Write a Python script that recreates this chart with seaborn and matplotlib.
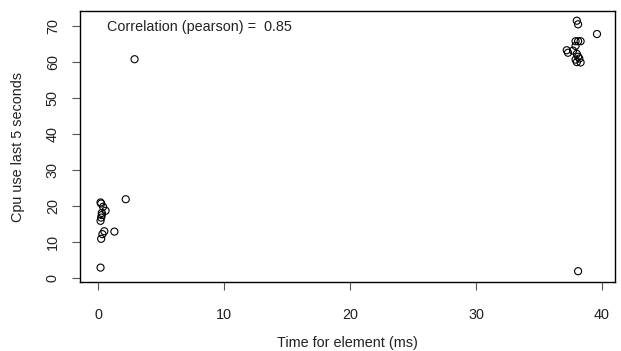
import matplotlib
matplotlib.use("Agg")
import matplotlib.pyplot as plt
import seaborn as sns
import pandas as pd

# Element processing time (ms) against CPU use over the last 5 seconds
time_ms = [0.2, 0.25, 0.4, 0.6, 0.3, 0.3, 0.25, 0.2, 0.5, 1.3, 0.35, 0.25, 0.2, 2.2, 2.9,
           38.0, 38.1, 39.6, 37.9, 38.1, 38.3, 37.9, 37.2, 37.3, 37.7, 38.0, 38.2,
           37.9, 38.0, 38.3, 38.1, 38.1]
cpu_pct = [21.0, 20.7, 19.8, 18.7, 18.1, 17.5, 16.8, 15.9, 13.0, 12.9, 12.2, 10.9, 2.9, 21.9, 60.8,
           71.5, 70.5, 67.8, 65.8, 65.8, 65.8, 64.5, 63.3, 62.6, 63.2, 62.3, 61.0,
           60.7, 60.0, 59.9, 61.5, 1.9]
x_ticks = [0, 10, 20, 30, 40]
y_ticks = [0, 10, 20, 30, 40, 50, 60, 70]
corr_label = "Correlation (pearson) =  0.85"

df = pd.DataFrame({"time": time_ms, "cpu": cpu_pct})

sns.set_style("white")
plt.rcParams["font.family"] = ["Liberation Sans", "DejaVu Sans"]

fs = 10.4
ink = "#222222"

fig = plt.figure(figsize=(6.21, 3.51), dpi=100)
ax = fig.add_axes([80 / 621, (351 - 282) / 351, (615 - 80) / 621, (282 - 11) / 351])

sns.scatterplot(data=df, x="time", y="cpu", ax=ax, marker="o", s=26,
                facecolor="none", edgecolor="black", linewidth=0.8)

ax.set_xlim(-1.43, 41.03)
ax.set_ylim(-1.1, 74.2)
ax.set_xticks(x_ticks)
ax.set_yticks(y_ticks)
ax.set_yticklabels([str(v) for v in y_ticks], rotation=90, va="center")

for sp in ax.spines.values():
    sp.set_visible(True)
    sp.set_color("black")
    sp.set_linewidth(1.0)

ax.tick_params(axis="both", which="major", direction="out", length=5.5, width=0.8,
               color="#555555", labelsize=fs, labelcolor=ink,
               bottom=True, left=True)
ax.tick_params(axis="x", pad=13)
ax.tick_params(axis="y", pad=9)

ax.set_xlabel("Time for element (ms)", fontsize=fs, color=ink, labelpad=10)
ax.set_ylabel("Cpu use last 5 seconds", fontsize=fs, color=ink)
ax.yaxis.set_label_coords(-55 / 535, 0.5)

# annotation placed in figure pixel coordinates
ax.text(107, 351 - 27, corr_label, transform=None, fontsize=fs, color=ink,
        ha="left", va="center")

fig.savefig("out.png", dpi=100)
